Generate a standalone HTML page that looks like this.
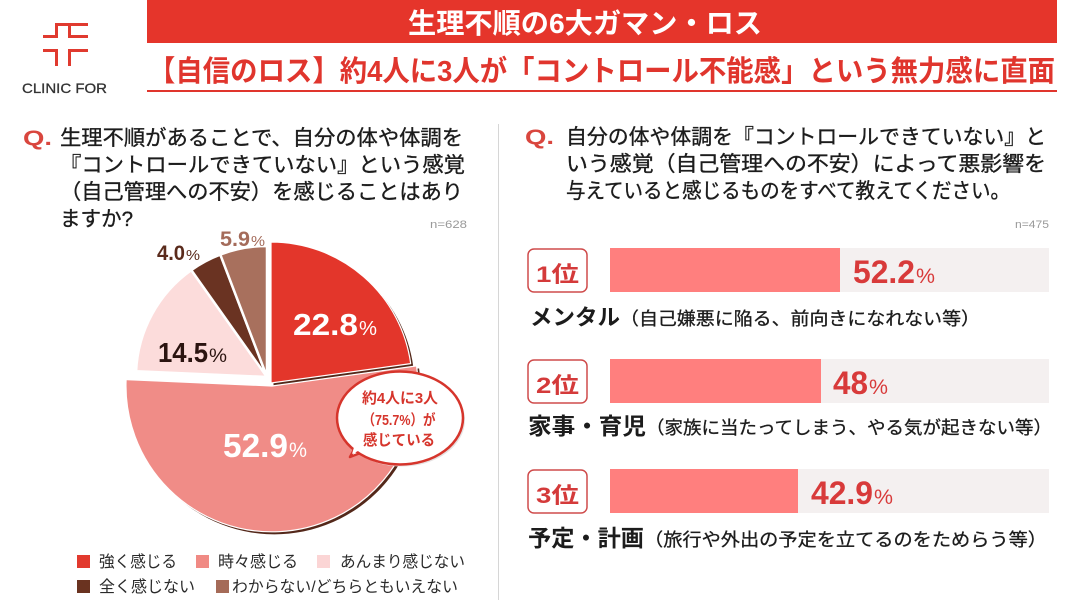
<!DOCTYPE html>
<html><head><meta charset="utf-8">
<style>
html,body{margin:0;padding:0;background:#fff;}
svg{display:block;}
text{font-family:"Liberation Sans","Noto Sans CJK JP",sans-serif;}
</style></head><body>
<svg width="1080" height="608" viewBox="0 0 1080 608" xmlns="http://www.w3.org/2000/svg">
<rect width="1080" height="608" fill="#fff"/>

<!-- logo -->
<g fill="#E03A2F">
  <rect x="43" y="35" width="15" height="3"/>
  <rect x="55" y="23" width="3" height="15"/>
  <rect x="55" y="23" width="33" height="3"/>
  <rect x="68" y="23" width="3" height="15"/>
  <rect x="68" y="35" width="20" height="3"/>
  <rect x="43" y="49" width="15" height="3"/>
  <rect x="55" y="49" width="3" height="17"/>
  <rect x="68" y="49" width="20" height="3"/>
  <rect x="68" y="49" width="3" height="17"/>
</g>
<text x="22" y="93" font-size="14" fill="#333" stroke="#333" stroke-width="0.3" textLength="85" lengthAdjust="spacingAndGlyphs">CLINIC FOR</text>

<!-- header -->
<rect x="147" y="0" width="910" height="43" fill="#E5352B"/>
<text x="408" y="33" font-size="28" font-weight="bold" fill="#fff" textLength="354" lengthAdjust="spacingAndGlyphs">生理不順の6大ガマン・ロス</text>
<text x="148" y="81" font-size="29" font-weight="bold" fill="#E0352D" textLength="907" lengthAdjust="spacingAndGlyphs">【自信のロス】約4人に3人が「コントロール不能感」という無力感に直面</text>
<rect x="147" y="90" width="910" height="2" fill="#E0352D"/>

<!-- left question -->
<text x="23" y="145" font-size="21" font-weight="bold" fill="#D9463E" textLength="29" lengthAdjust="spacingAndGlyphs">Q.</text>
<g font-size="21" fill="#1c1c1c" stroke="#1c1c1c" stroke-width="0.35">
  <text x="60" y="145" textLength="403" lengthAdjust="spacingAndGlyphs">生理不順があることで、自分の体や体調を</text>
  <text x="60" y="172" textLength="405" lengthAdjust="spacingAndGlyphs">『コントロールできていない』という感覚</text>
  <text x="60" y="199" textLength="403" lengthAdjust="spacingAndGlyphs">（自己管理への不安）を感じることはあり</text>
  <text x="60" y="226" textLength="73" lengthAdjust="spacingAndGlyphs">ますか?</text>
</g>
<text x="430" y="228" font-size="11" fill="#999" textLength="37" lengthAdjust="spacingAndGlyphs">n=628</text>

<!-- divider -->
<rect x="498" y="124" width="1" height="476" fill="#d6d6d6"/>

<!-- right question -->
<text x="525" y="144" font-size="21" font-weight="bold" fill="#D9463E" textLength="29" lengthAdjust="spacingAndGlyphs">Q.</text>
<g font-size="21" fill="#1c1c1c" stroke="#1c1c1c" stroke-width="0.35">
  <text x="566" y="144" textLength="480" lengthAdjust="spacingAndGlyphs">自分の体や体調を『コントロールできていない』と</text>
  <text x="566" y="171" textLength="480" lengthAdjust="spacingAndGlyphs">いう感覚（自己管理への不安）によって悪影響を</text>
  <text x="566" y="198" textLength="444" lengthAdjust="spacingAndGlyphs">与えていると感じるものをすべて教えてください。</text>
</g>
<text x="1015" y="228" font-size="11" fill="#999" textLength="34" lengthAdjust="spacingAndGlyphs">n=475</text>

<!-- pie shadow -->
<g fill="#54281A" transform="translate(2.5,2.5)">
  <path d="M271,383 L271,242 A141,141 0 0 1 410.7,363.6 Z"/>
  <path d="M272,386 L416.6,365.9 A146,146 0 1 1 126.1,379.6 Z"/>
</g>
<!-- pie slices -->
<g stroke="#fff" stroke-width="1.2" stroke-linejoin="round">
  <path d="M272,386 L416.6,365.9 A146,146 0 1 1 126.1,379.6 Z" fill="#F08C87"/>
  <path d="M271,383 L271,242 A141,141 0 0 1 410.7,363.6 Z" fill="#E3362B"/>
</g>
<g stroke="#fff" stroke-width="2.5" stroke-linejoin="round">
  <path d="M267,377 L136.1,371.2 A131,131 0 0 1 191.3,270.1 Z" fill="#FCDCDB"/>
  <path d="M267,377 L191.3,270.1 A131,131 0 0 1 220.3,254.6 Z" fill="#6A3322"/>
  <path d="M267,377 L220.3,254.6 A131,131 0 0 1 267,246 Z" fill="#A8705D"/>
</g>

<!-- pie labels -->
<text x="293" y="335" font-size="31" font-weight="bold" fill="#fff" textLength="65" lengthAdjust="spacingAndGlyphs">22.8</text>
<text x="359" y="335" font-size="20" fill="#fff" textLength="18" lengthAdjust="spacingAndGlyphs">%</text>
<text x="223" y="457" font-size="33" font-weight="bold" fill="#fff" textLength="65" lengthAdjust="spacingAndGlyphs">52.9</text>
<text x="289" y="457" font-size="21" fill="#fff" textLength="18" lengthAdjust="spacingAndGlyphs">%</text>
<text x="158" y="362" font-size="28" font-weight="bold" fill="#2b1410" textLength="50" lengthAdjust="spacingAndGlyphs">14.5</text>
<text x="209" y="362" font-size="19" fill="#2b1410" textLength="18" lengthAdjust="spacingAndGlyphs">%</text>
<text x="157" y="260" font-size="21" font-weight="bold" fill="#5a2b1c" textLength="28" lengthAdjust="spacingAndGlyphs">4.0</text>
<text x="186" y="260" font-size="15" fill="#5a2b1c" textLength="14" lengthAdjust="spacingAndGlyphs">%</text>
<text x="220" y="246" font-size="21" font-weight="bold" fill="#A46B5A" textLength="30" lengthAdjust="spacingAndGlyphs">5.9</text>
<text x="251" y="246" font-size="15" fill="#A46B5A" textLength="14" lengthAdjust="spacingAndGlyphs">%</text>

<!-- callout -->
<ellipse cx="402" cy="420" rx="63" ry="46.5" fill="#e6e2e2"/>
<path d="M356,446 L350,457 L363,452 Z" fill="#fff" stroke="#D6352C" stroke-width="2.5" stroke-linejoin="round"/>
<ellipse cx="400" cy="418" rx="63" ry="46.5" fill="#fff" stroke="#D6352C" stroke-width="2.5"/>
<path d="M355,444 L352,454 L362,449 Z" fill="#fff" stroke="none"/>
<g font-size="15" font-weight="bold" fill="#D6352C" text-anchor="middle">
  <text x="400" y="403" textLength="76" lengthAdjust="spacingAndGlyphs">約4人に3人</text>
  <text x="399" y="425" textLength="73" lengthAdjust="spacingAndGlyphs">（75.7%）が</text>
  <text x="399" y="445" textLength="72" lengthAdjust="spacingAndGlyphs">感じている</text>
</g>

<!-- legend -->
<rect x="77" y="555" width="13" height="13" fill="#E23A2E"/>
<rect x="196" y="555" width="13" height="13" fill="#F08A84"/>
<rect x="317" y="555" width="13" height="13" fill="#FBD5D5"/>
<rect x="77" y="580" width="13" height="13" fill="#6A3320"/>
<rect x="216" y="580" width="13" height="13" fill="#A56B58"/>
<g font-size="16" fill="#2a2a2a">
  <text x="99" y="567" textLength="78" lengthAdjust="spacingAndGlyphs">強く感じる</text>
  <text x="218" y="567" textLength="80" lengthAdjust="spacingAndGlyphs">時々感じる</text>
  <text x="340" y="567" textLength="125" lengthAdjust="spacingAndGlyphs">あんまり感じない</text>
  <text x="99" y="592" textLength="96" lengthAdjust="spacingAndGlyphs">全く感じない</text>
  <text x="232" y="592" textLength="226" lengthAdjust="spacingAndGlyphs">わからない/どちらともいえない</text>
</g>

<!-- bars -->
<g>
  <rect x="610" y="248" width="439" height="44" fill="#F4F0F0"/>
  <rect x="610" y="248" width="230" height="44" fill="#FF7F7E"/>
  <rect x="528" y="249" width="59" height="43" rx="6" fill="#fff" stroke="#CF4B4B" stroke-width="1.5"/>
  <text x="557.5" y="282" font-size="22" font-weight="bold" fill="#D43A3A" text-anchor="middle" textLength="43" lengthAdjust="spacingAndGlyphs">1位</text>
  <text x="853" y="283" font-size="32" font-weight="bold" fill="#D83A3A" textLength="62" lengthAdjust="spacingAndGlyphs">52.2</text>
  <text x="916" y="283" font-size="21" fill="#D83A3A" textLength="19" lengthAdjust="spacingAndGlyphs">%</text>
  <text x="530" y="325" font-size="22" font-weight="bold" fill="#1c1c1c" textLength="90" lengthAdjust="spacingAndGlyphs">メンタル</text>
  <text x="620" y="325" font-size="18" fill="#1c1c1c" stroke="#1c1c1c" stroke-width="0.3" textLength="360" lengthAdjust="spacingAndGlyphs">（自己嫌悪に陥る、前向きになれない等）</text>
</g>
<g>
  <rect x="610" y="359" width="439" height="44" fill="#F4F0F0"/>
  <rect x="610" y="359" width="211" height="44" fill="#FF7F7E"/>
  <rect x="528" y="360" width="59" height="43" rx="6" fill="#fff" stroke="#CF4B4B" stroke-width="1.5"/>
  <text x="557.5" y="393" font-size="22" font-weight="bold" fill="#D43A3A" text-anchor="middle" textLength="43" lengthAdjust="spacingAndGlyphs">2位</text>
  <text x="833" y="394" font-size="32" font-weight="bold" fill="#D83A3A" textLength="35" lengthAdjust="spacingAndGlyphs">48</text>
  <text x="869" y="394" font-size="21" fill="#D83A3A" textLength="19" lengthAdjust="spacingAndGlyphs">%</text>
  <text x="528" y="434" font-size="23" font-weight="bold" fill="#1c1c1c" textLength="118" lengthAdjust="spacingAndGlyphs">家事・育児</text>
  <text x="646" y="434" font-size="18" fill="#1c1c1c" stroke="#1c1c1c" stroke-width="0.3" textLength="406" lengthAdjust="spacingAndGlyphs">（家族に当たってしまう、やる気が起きない等）</text>
</g>
<g>
  <rect x="610" y="469" width="439" height="44" fill="#F4F0F0"/>
  <rect x="610" y="469" width="188" height="44" fill="#FF7F7E"/>
  <rect x="528" y="470" width="59" height="43" rx="6" fill="#fff" stroke="#CF4B4B" stroke-width="1.5"/>
  <text x="557.5" y="503" font-size="22" font-weight="bold" fill="#D43A3A" text-anchor="middle" textLength="43" lengthAdjust="spacingAndGlyphs">3位</text>
  <text x="811" y="504" font-size="32" font-weight="bold" fill="#D83A3A" textLength="62" lengthAdjust="spacingAndGlyphs">42.9</text>
  <text x="874" y="504" font-size="21" fill="#D83A3A" textLength="19" lengthAdjust="spacingAndGlyphs">%</text>
  <text x="528" y="546" font-size="23" font-weight="bold" fill="#1c1c1c" textLength="116" lengthAdjust="spacingAndGlyphs">予定・計画</text>
  <text x="644" y="546" font-size="18" fill="#1c1c1c" stroke="#1c1c1c" stroke-width="0.3" textLength="403" lengthAdjust="spacingAndGlyphs">（旅行や外出の予定を立てるのをためらう等）</text>
</g>
</svg>
</body></html>
